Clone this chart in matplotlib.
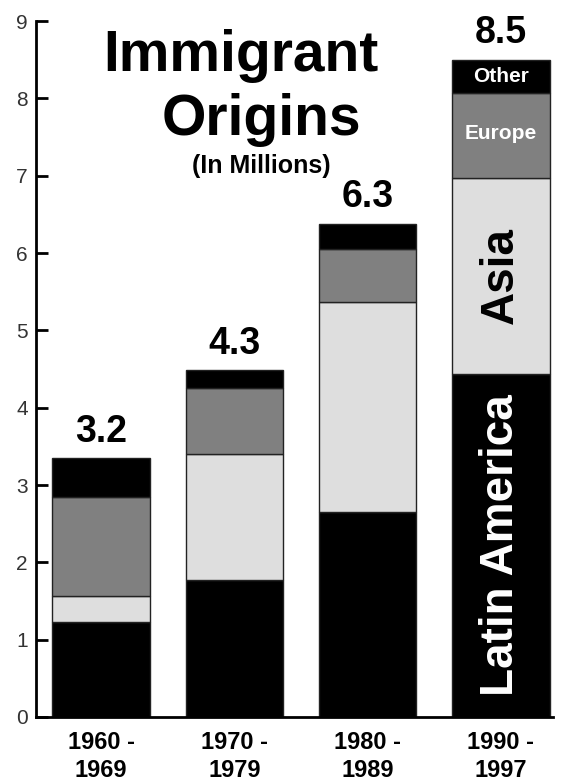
import numpy as np
from matplotlib import pyplot as plt

plt.rcParams['font.family'] = ['Liberation Sans', 'DejaVu Sans']

periods = ["1960 -\n1969", "1970 -\n1979", "1980 -\n1989", "1990 -\n1997"]
totals = ["3.2", "4.3", "6.3", "8.5"]
latin_america = [1.23, 1.77, 2.65, 4.44]
asia = [0.34, 1.63, 2.72, 2.53]
europe = [1.28, 0.86, 0.68, 1.10]
other = [0.50, 0.23, 0.33, 0.43]

fig = plt.figure(figsize=(5.63, 7.83), dpi=100)
ax = fig.add_axes([0.064, 0.0843, 0.918, 0.8887])

x = np.arange(len(periods))
w = 0.73
b1 = np.array(latin_america)
b2 = b1 + np.array(asia)
b3 = b2 + np.array(europe)
top = b3 + np.array(other)

ax.bar(x, latin_america, w, color="#000000", edgecolor="#222222", linewidth=1)
ax.bar(x, asia, w, bottom=b1, color="#dedede", edgecolor="#222222", linewidth=1)
ax.bar(x, europe, w, bottom=b2, color="#808080", edgecolor="#222222", linewidth=1)
ax.bar(x, other, w, bottom=b3, color="#000000", edgecolor="#222222", linewidth=1)

for i in range(len(x)):
    ax.annotate(totals[i], (x[i], top[i]), xytext=(0, 6), textcoords="offset points",
                ha="center", va="bottom", fontsize=27, fontweight="bold")

# segment labels on the last bar
j = 3
ax.text(x[j], b3[j] + other[j] / 2, "Other", color="white", fontsize=15, fontweight="bold",
        ha="center", va="center")
ax.text(x[j], b2[j] + europe[j] / 2 + 0.03, "Europe", color="white", fontsize=15, fontweight="bold",
        ha="center", va="center")
ax.text(x[j], b1[j] + asia[j] / 2, "Asia", color="black", fontsize=33, fontweight="bold",
        ha="center", va="center", rotation=90)
ax.text(x[j], latin_america[j] / 2, "Latin America", color="white", fontsize=33, fontweight="bold",
        ha="center", va="center", rotation=90)

ax.text(1.05, 8.55, "Immigrant", fontsize=41, fontweight="bold", ha="center", va="center")
ax.text(1.2, 7.72, "Origins", fontsize=41, fontweight="bold", ha="center", va="center")
ax.text(1.2, 7.13, "(In Millions)", fontsize=18, fontweight="bold", ha="center", va="center")

ax.set_xlim(-0.4875, 3.39)
ax.set_ylim(0, 9)
ax.set_yticks(range(10))
ax.set_xticks(x)
ax.set_xticklabels(periods, fontsize=17, fontweight="bold", linespacing=1.3)
ax.tick_params(axis="y", direction="in", length=8.5, width=2, labelsize=15, labelcolor="#333333", pad=6)
ax.tick_params(axis="x", length=0, pad=10)
ax.spines["top"].set_visible(False)
ax.spines["right"].set_visible(False)
ax.spines["left"].set_linewidth(2)
ax.spines["bottom"].set_linewidth(2)

fig.savefig("out.png", dpi=100)
